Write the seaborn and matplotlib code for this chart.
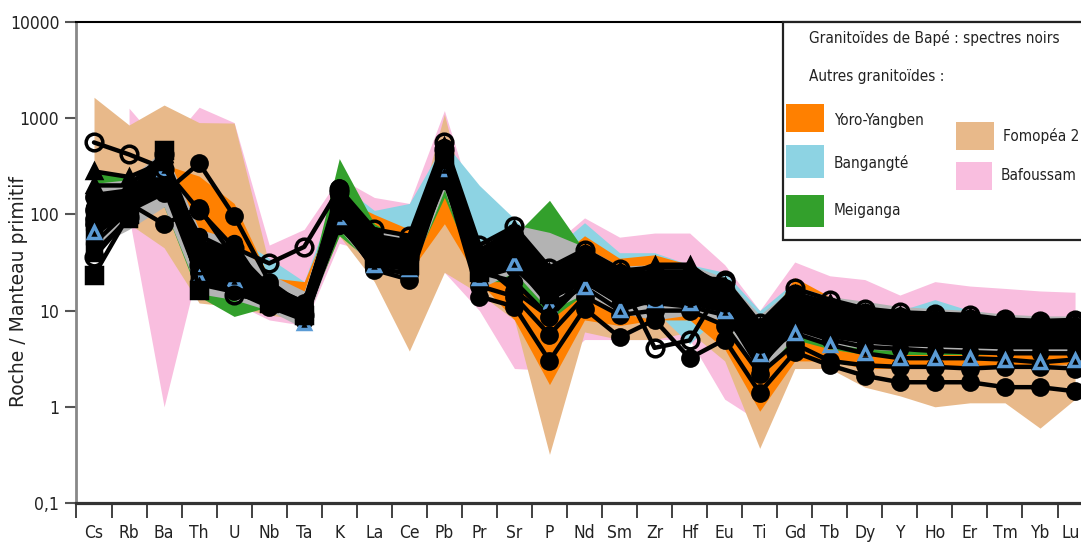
import numpy as np
import pandas as pd
import matplotlib
matplotlib.use("Agg")
import matplotlib.pyplot as plt
import seaborn as sns
from matplotlib import font_manager
from matplotlib.font_manager import FontProperties
from matplotlib.patches import Rectangle
from matplotlib.ticker import NullLocator

nan = np.nan
elements = ['Cs', 'Rb', 'Ba', 'Th', 'U', 'Nb', 'Ta', 'K', 'La', 'Ce', 'Pb', 'Pr', 'Sr', 'P', 'Nd',
            'Sm', 'Zr', 'Hf', 'Eu', 'Ti', 'Gd', 'Tb', 'Dy', 'Y', 'Ho', 'Er', 'Tm', 'Yb', 'Lu']

# Envelopes (other granitoids)
bafoussam_hi = [nan, 1270, 480, 1300, 900, 48, 70, 240, 150, 130, 1200, 80, 70, 45, 92, 58, 64, 64, 30, 10, 32, 23, 21, 14.5, 20, 18, 17, 16, 15.5]
bafoussam_lo = [nan, 95, 1.0, 30, 12, 8, 7, 50, 40, 30, 25, 10, 2.5, 2.4, 5, 5, 5, 5, 1.2, 0.7, 3, 2.6, 2.2, 2, 2, 2, 2, 2, 2]
fomopea_hi = [1650, 850, 1370, 900, 890, 30, 18, 200, 70, 50, 1100, 40, 60, 20, 35, 25, 20, 18, 15, 5, 15, 12, 10, 8, 8, 8, 7, 7, 7]
fomopea_lo = [200, 80, 45, 12, 11, 9, 8, 60, 20, 3.8, 25, 15, 8, 0.32, 6, 5, 5, 6, 3, 0.37, 2.5, 2.5, 1.6, 1.3, 1.0, 1.1, 1.1, 0.6, 1.2]
bangangte_hi = [230, 130, 300, 100, 60, 35, 20, 210, 110, 130, 560, 200, 90, 40, 82, 40, 40, 30, 25, 10, 20, 14, 11, 10, 13, 10, 9, 8, 8]
bangangte_lo = [40, 90, 200, 20, 15, 12, 8, 80, 40, 30, 200, 25, 30, 10, 18, 10, 10, 4.5, 10, 3, 6, 5, 4, 3.5, 3.5, 3.5, 3.5, 3.5, 3.5]
yoro_hi = [nan, 110, 330, 250, 130, 22, 20, 150, 100, 70, 450, 45, 60, 30, 60, 35, 38, 30, 20, 6, 22, 14, 11, 9, 8.5, 8, 7.5, 7.5, 7.5]
yoro_lo = [nan, 100, 150, 25, 15, 10, 8, 70, 30, 25, 80, 20, 8, 1.7, 8, 7, 8, 8, 4, 0.9, 3, 3, 2.5, 2.5, 2.5, 2.5, 2.5, 2.7, 2.8]
meiganga_hi = [280, 250, 200, 60, 25, 20, 12, 380, 80, 50, 300, 40, 60, 140, 42, 28, 25, 25, 15, 5, 12, 8, 6, 6, 6, 6, 6, 6, 6]
meiganga_lo = [60, 100, 120, 14, 8.7, 11, 8, 60, 30, 25, 150, 20, 20, 8, 15, 10, 12, 12, 8, 2, 5, 4, 3.5, 3.5, 3.5, 3.5, 3.5, 3.5, 3.5]
# Bapé envelope (grey) and its densely overlapping core (solid black)
bape_hi = [210, 230, 480, 70, 55, 24, 16, 200, 68, 60, 590, 50, 78, 65, 46, 29, 30, 30, 22, 9, 18, 14, 12.5, 11, 10.5, 10, 9.2, 8.8, 8.8]
bape_lo = [45, 70, 120, 15, 13, 10, 6.5, 70, 26, 22, 180, 17, 25, 10, 15, 9.5, 8, 9, 8, 2, 5.5, 4.5, 4, 3.8, 3.8, 3.7, 3.6, 3.5, 3.5]
core_hi = [170, 190, 440, 55, 45, 19, 13, 175, 58, 52, 540, 44, 68, 26, 41, 25, 27, 27, 19, 6.8, 15, 11.5, 9.8, 9.2, 9.0, 8.6, 7.9, 7.6, 7.6]
core_lo = [70, 105, 160, 18, 15, 11, 7.8, 85, 30, 26, 210, 21, 30, 13, 19, 11.5, 12.5, 12.5, 10, 2.6, 6.2, 5.2, 4.6, 4.3, 4.2, 4.1, 4.0, 4.0, 4.0]

# Bapé samples (black spectra)
s01 = [560, 420, 300, 110, 45, 31, 46, 185, 70, 60, 560, 48, 75, 28, 43, 27, 24, 22, 21, 7.4, 17, 13, 10.5, 9.6, 9.3, 9, 8.1, 7.8, 8]
s02 = [36, 95, 420, 30, 14.5, 13, 9, 170, 40, 35, 480, 30, 55, 20, 38, 22, 4.1, 4.9, 20, 6, 15, 11, 9.5, 8.5, 8.5, 8.2, 7.6, 7.3, 7.5]
s03 = [150, 160, 166, 340, 96, 20, 11, 188, 60, 52, 450, 38, 62, 22, 38, 24, 22, 20, 17, 6.5, 14, 10.5, 9, 8.5, 8, 7.6, 7.2, 7, 7]
s04 = [110, 130, 79, 117, 35, 18, 12, 160, 45, 40, 400, 32, 16, 8.6, 25, 15, 14, 14, 12, 4.5, 10, 7.5, 6.5, 6, 5.8, 5.6, 5.4, 5.2, 5.2]
s05 = [23.4, 100, 465, 16.5, 25, 12, 9, 110, 35, 30, 380, 25, 45, 15, 30, 20, 16, 15, 14, 5, 11, 8.5, 7, 6.5, 6.3, 6, 5.8, 5.6, 5.6]
s06 = [280, 245, 350, 40, 25, 14, 10, 150, 45, 40, 420, 32, 55, 20, 35, 22, 30, 30, 16, 5.5, 12, 9, 7.5, 7, 6.8, 6.5, 6.3, 6, 6]
s07 = [65, 100, 300, 22, 21, 19, 7.4, 93, 30, 27, 300, 22, 31, 11.5, 17.5, 10.1, 13, 12, 10, 3.5, 5.8, 4.4, 3.6, 3.2, 3.2, 3.2, 3.1, 2.9, 3.1]
s08 = [80, 120, 200, 25, 18, 12, 9, 90, 26.5, 21, 250, 14, 11, 3.0, 10.5, 5.3, 8, 3.2, 5, 1.4, 3.7, 2.7, 2.1, 1.8, 1.8, 1.8, 1.6, 1.6, 1.45]
s09 = [90, 110, 250, 20, 16, 11, 8, 80, 28, 24, 280, 18, 14, 5.6, 14, 9, 10, 10, 7, 2.2, 4.5, 3.0, 2.7, 2.6, 2.6, 2.5, 2.6, 2.6, 2.5]
s10 = [70, 100, 220, 30, 22, 15, 10, 100, 35, 30, 300, 25, 20, 8.6, 20, 12, 12, 11, 9, 3, 6.5, 5, 4.2, 4, 3.8, 3.7, 3.6, 3.6, 3.6]
s11 = [40, 90, 380, 22, 30, 14, 10, 120, 40, 35, 350, 28, 50, 18, 28, 18, 18, 16, 15, 5, 12, 9, 7.5, 7, 6.8, 6.6, 6.3, 6, 6]
s12 = [120, 140, 300, 60, 40, 16, 10, 130, 50, 42, 420, 35, 50, 20, 32, 22, 20, 19, 15, 5.5, 13, 10, 8, 7.5, 7.3, 7, 6.8, 6.6, 6.5]
s13 = [60, 120, 250, 25, 20, 13, 9.5, 100, 38, 32, 300, 28, 40, 15, 28, 18, 17, 16, 13, 4.5, 10, 8, 6.5, 6, 5.8, 5.6, 5.4, 5.2, 5.2]
s14 = [100, 130, 350, 45, 30, 15, 9, 150, 55, 48, 500, 40, 65, 24, 40, 25, 22, 21, 17, 6.5, 14, 11, 9, 8.5, 8.2, 7.8, 7.4, 7.0, 7.0]
s15 = [200, 200, 420, 50, 35, 17, 12, 170, 50, 45, 520, 42, 70, 25, 40, 26, 28, 28, 18, 7, 15, 12, 9.5, 9, 8.8, 8.5, 8, 7.6, 7.6]
s16 = [50, 110, 180, 35, 50, 14, 8, 75, 32, 28, 220, 22, 28, 13, 22, 14, 14, 13, 10, 2.5, 8, 6, 5, 4.8, 4.6, 4.5, 4.4, 4.3, 4.3]

yticks = [0.1, 1, 10, 100, 1000, 10000]
ytick_labels = ['0,1', '1', '10', '100', '1000', '10000']

legend_title = 'Granitoïdes de Bapé : spectres noirs'
legend_sub = 'Autres granitoïdes :'

# ---------------------------------------------------------------
sns.set_theme(style="white")
names = {f.name for f in font_manager.fontManager.ttflist}
if 'Liberation Sans Narrow' in names:
    NARROW = dict(family='Liberation Sans Narrow', stretch='normal')
else:
    NARROW = dict(family='DejaVu Sans', stretch='condensed')
plt.rcParams['font.family'] = ['DejaVu Sans']

W, H = 1081, 544
fig = plt.figure(figsize=(W / 100, H / 100), dpi=100)
fig.patch.set_facecolor('white')
ax = fig.add_axes([76 / W, (H - 503) / H, 1 - 76 / W, (503 - 22) / H])
ax.set_facecolor('white')

x = np.arange(len(elements))
df = pd.DataFrame({'pos': x, 'element': elements})

fills = [
    (bafoussam_lo, bafoussam_hi, '#F9BEDF'),
    (fomopea_lo, fomopea_hi, '#E8B98A'),
    (bangangte_lo, bangangte_hi, '#8DD3E3'),
    (yoro_lo, yoro_hi, '#FF8000'),
    (meiganga_lo, meiganga_hi, '#33A02C'),
    (bape_lo, bape_hi, '#B3B3B3'),
    (core_lo, core_hi, '#000000'),
]
for z, (lo, hi, col) in enumerate(fills):
    ax.fill_between(x, np.array(lo, float), np.array(hi, float), color=col, lw=0, zorder=1 + z * 0.1)

samples = [
    (s16, 'o', 'black', 'black', 10),
    (s10, 'o', 'black', 'black', 10),
    (s13, 's', 'black', 'black', 10),
    (s09, 'o', 'black', 'black', 11),
    (s08, 'o', 'black', 'black', 11),
    (s11, 's', 'black', 'black', 10),
    (s12, 'o', 'black', 'black', 10),
    (s14, 'o', 'black', 'black', 10),
    (s07, '^', 'none', '#5B9BD5', 8),
    (s15, '^', 'black', 'black', 10),
    (s06, '^', 'black', 'black', 10),
    (s05, 's', 'black', 'black', 11),
    (s04, 'o', 'black', 'black', 11),
    (s03, 'o', 'black', 'black', 11),
    (s02, 'o', 'none', 'black', 12),
    (s01, 'o', 'none', 'black', 12),
]
for k, (vals, mk, mfc, mec, ms) in enumerate(samples):
    d = df.assign(val=np.array(vals, float))
    sns.lineplot(data=d, x='pos', y='val', ax=ax, color='black', linewidth=3.2,
                 marker=mk, markersize=ms, markerfacecolor=mfc, markeredgecolor=mec,
                 markeredgewidth=2.5, sort=False, estimator=None, legend=False,
                 zorder=5 + k * 0.01)

ax.set_yscale('log')
ax.set_ylim(0.1, 10000)
ax.set_xlim(-0.514, 28.17)
ax.set_xlabel('')
ax.set_ylabel('')

fp_tick = FontProperties(size=12.5, **NARROW)
ax.set_yticks(yticks)
ax.set_yticklabels(ytick_labels, fontproperties=fp_tick)
ax.yaxis.set_minor_locator(NullLocator())
ax.tick_params(axis='y', which='major', direction='out', length=8, width=1.5,
               color='#555555', pad=4, labelcolor='#222222', left=True)

ax.set_xticks(np.arange(-0.5, 28.0, 1.0))
ax.set_xticklabels([])
ax.set_xticks(x, minor=True)
ax.set_xticklabels(elements[:-1] + [''], minor=True, fontproperties=fp_tick)
ax.tick_params(axis='x', which='major', direction='out', length=11, width=1.3,
               color='#333333', bottom=True)
ax.tick_params(axis='x', which='minor', length=0, pad=15, labelcolor='#222222', bottom=True)
# last label sits against the right edge of the picture
fig.text(1071 / W, 1 - 524 / H, elements[-1], ha='center', va='top', fontproperties=fp_tick,
         color='#222222')

ax.spines['left'].set_color('#888888')
ax.spines['left'].set_linewidth(2.0)
ax.spines['bottom'].set_color('#333333')
ax.spines['bottom'].set_linewidth(2.3)
ax.spines['top'].set_color('black')
ax.spines['top'].set_linewidth(1.5)
ax.spines['right'].set_visible(False)
ax.grid(False)

fig.text(19 / W, 1 - 292 / H, 'Roche / Manteau primitif', rotation=90, ha='center', va='center',
         fontsize=13.5, family='DejaVu Sans', color='#222222')

# Legend box (manual)
def fx(px):
    return px / W


def fy(py):
    return 1 - py / H


ax.add_patch(Rectangle((fx(783), fy(240)), 1.1 - fx(783), fy(22) - fy(240), transform=fig.transFigure,
                       facecolor='white', edgecolor='#222222', lw=1.6, clip_on=False, zorder=20))
fp_leg = FontProperties(size=11, **NARROW)
ax.text(fx(809), fy(38), legend_title, transform=fig.transFigure, ha='left', va='center',
        fontproperties=fp_leg, color='#222222', zorder=21)
ax.text(fx(809), fy(77), legend_sub, transform=fig.transFigure, ha='left', va='center',
        fontproperties=fp_leg, color='#222222', zorder=21)
leg_items = [
    ('Yoro-Yangben', '#FF8000', 786, 104, 824, 132, 834, 120),
    ('Bangangté', '#8DD3E3', 786, 145, 824, 178, 834, 163),
    ('Meiganga', '#33A02C', 786, 195, 824, 227, 834, 210),
    ('Fomopéa 2', '#E8B98A', 956, 122, 994, 150, 1003, 136),
    ('Bafoussam', '#F9BEDF', 956, 162, 992, 190, 1001, 176),
]
for lab, col, x0, y0, x1, y1, tx, ty in leg_items:
    ax.add_patch(Rectangle((fx(x0), fy(y1)), fx(x1) - fx(x0), fy(y0) - fy(y1), transform=fig.transFigure,
                           facecolor=col, edgecolor='none', clip_on=False, zorder=21))
    ax.text(fx(tx), fy(ty), lab, transform=fig.transFigure, ha='left', va='center',
            fontproperties=fp_leg, color='#222222', zorder=21)

fig.savefig('out.png', dpi=100, facecolor='white')
